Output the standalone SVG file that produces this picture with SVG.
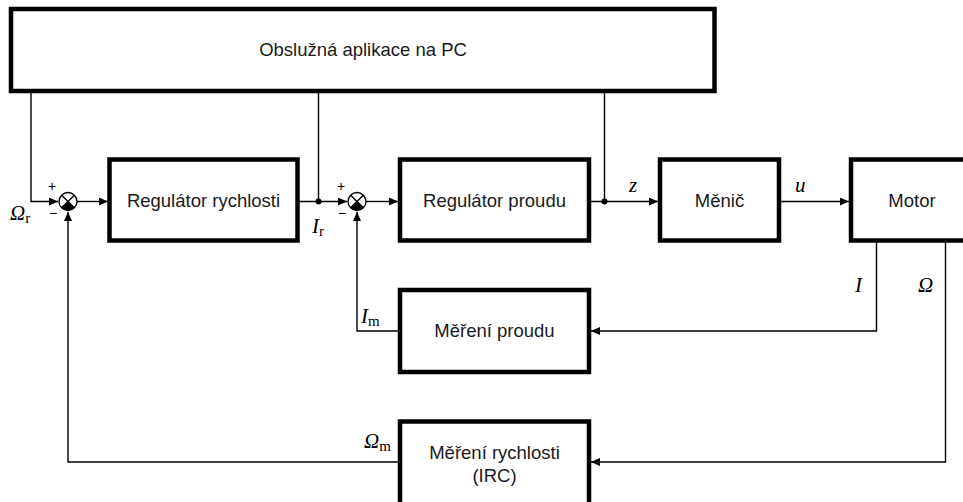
<svg xmlns="http://www.w3.org/2000/svg" width="963" height="502" viewBox="0 0 963 502">
<defs>
<marker id="arr" markerUnits="userSpaceOnUse" markerWidth="10" markerHeight="8" refX="9" refY="4" orient="auto">
<path d="M0,0 L9,4 L0,8 Z" fill="#000"/>
</marker>
<style>
.box{fill:#fff;stroke:#000;stroke-width:4.5}
.t{font-family:"Liberation Sans",Arial,sans-serif;font-size:18.5px;fill:#1a1a1a;text-anchor:middle}
.ln{fill:none;stroke:#000;stroke-width:1.4}
.var{font-family:"Liberation Serif","Times New Roman",serif;font-style:italic;font-size:21px;fill:#000}
.sub{font-family:"Liberation Serif","Times New Roman",serif;font-style:normal;font-size:15px}
.sg{font-family:"Liberation Sans",Arial,sans-serif;font-size:14px;fill:#000;text-anchor:middle}
.sum{fill:#fff;stroke:#000;stroke-width:1.4}
</style>
</defs>
<rect width="963" height="502" fill="#fff"/>
<g id="connectors">
<path class="ln" d="M31,91 V201.5 H58" marker-end="url(#arr)"/>
<path class="ln" d="M77,201.5 H108" marker-end="url(#arr)"/>
<path class="ln" d="M298,201.5 H347" marker-end="url(#arr)"/>
<path class="ln" d="M318.5,91 V201.5"/>
<circle cx="318.5" cy="201.5" r="3" fill="#000"/>
<path class="ln" d="M366,201.5 H398" marker-end="url(#arr)"/>
<path class="ln" d="M589,201.5 H658" marker-end="url(#arr)"/>
<path class="ln" d="M604.5,91 V201.5"/>
<circle cx="604.5" cy="201.5" r="3" fill="#000"/>
<path class="ln" d="M780,201.5 H849" marker-end="url(#arr)"/>
<path class="ln" d="M876.5,241 V331 H591" marker-end="url(#arr)"/>
<path class="ln" d="M398,331 H357 V212" marker-end="url(#arr)"/>
<path class="ln" d="M945.5,241 V462 H591" marker-end="url(#arr)"/>
<path class="ln" d="M398,462 H68 V212" marker-end="url(#arr)"/>
</g>
<g id="sum1">
<circle class="sum" cx="68" cy="201.5" r="9"/>
<path d="M68,201.5 L61.64,207.86 A9,9 0 0 0 74.36,207.86 Z" fill="#000"/>
<path class="ln" d="M61.64,195.14 L74.36,207.86 M74.36,195.14 L61.64,207.86"/>
<text class="sg" x="52" y="191">+</text>
<text class="sg" x="53" y="218">−</text>
</g>
<g id="sum2">
<circle class="sum" cx="357" cy="201.5" r="9"/>
<path d="M357,201.5 L350.64,207.86 A9,9 0 0 0 363.36,207.86 Z" fill="#000"/>
<path class="ln" d="M350.64,195.14 L363.36,207.86 M363.36,195.14 L350.64,207.86"/>
<text class="sg" x="341" y="191">+</text>
<text class="sg" x="342" y="218">−</text>
</g>
<g id="app">
<rect class="box" x="11" y="9" width="703.5" height="82"/>
<text class="t" x="363" y="56">Obslužná aplikace na PC</text>
</g>
<g id="reg-rychlosti">
<rect class="box" x="109.5" y="159.5" width="188" height="81"/>
<text class="t" x="203.5" y="207">Regulátor rychlosti</text>
</g>
<g id="reg-proudu">
<rect class="box" x="400" y="159.5" width="189" height="81"/>
<text class="t" x="494.5" y="207">Regulátor proudu</text>
</g>
<g id="menic">
<rect class="box" x="660" y="159.5" width="119" height="81"/>
<text class="t" x="719.5" y="207">Měnič</text>
</g>
<g id="motor">
<rect class="box" x="851" y="159.5" width="125" height="81"/>
<text class="t" x="912" y="207">Motor</text>
</g>
<g id="mereni-proudu">
<rect class="box" x="400" y="290" width="189" height="82"/>
<text class="t" x="494.5" y="337">Měření proudu</text>
</g>
<g id="mereni-rychlosti">
<rect class="box" x="400" y="421.5" width="189" height="100"/>
<text class="t" x="494.5" y="459">Měření rychlosti</text>
<text class="t" x="494.5" y="482">(IRC)</text>
</g>
<g id="labels">
<text class="var" x="10" y="220">Ω<tspan class="sub" dy="3">r</tspan></text>
<text class="var" x="312" y="233">I<tspan class="sub" dy="3">r</tspan></text>
<text class="var" x="629" y="192">z</text>
<text class="var" x="795" y="192">u</text>
<text class="var" x="855" y="292">I</text>
<text class="var" x="918" y="292">Ω</text>
<text class="var" x="361" y="323">I<tspan class="sub" dy="3">m</tspan></text>
<text class="var" x="364" y="448">Ω<tspan class="sub" dy="3">m</tspan></text>
</g>
</svg>
